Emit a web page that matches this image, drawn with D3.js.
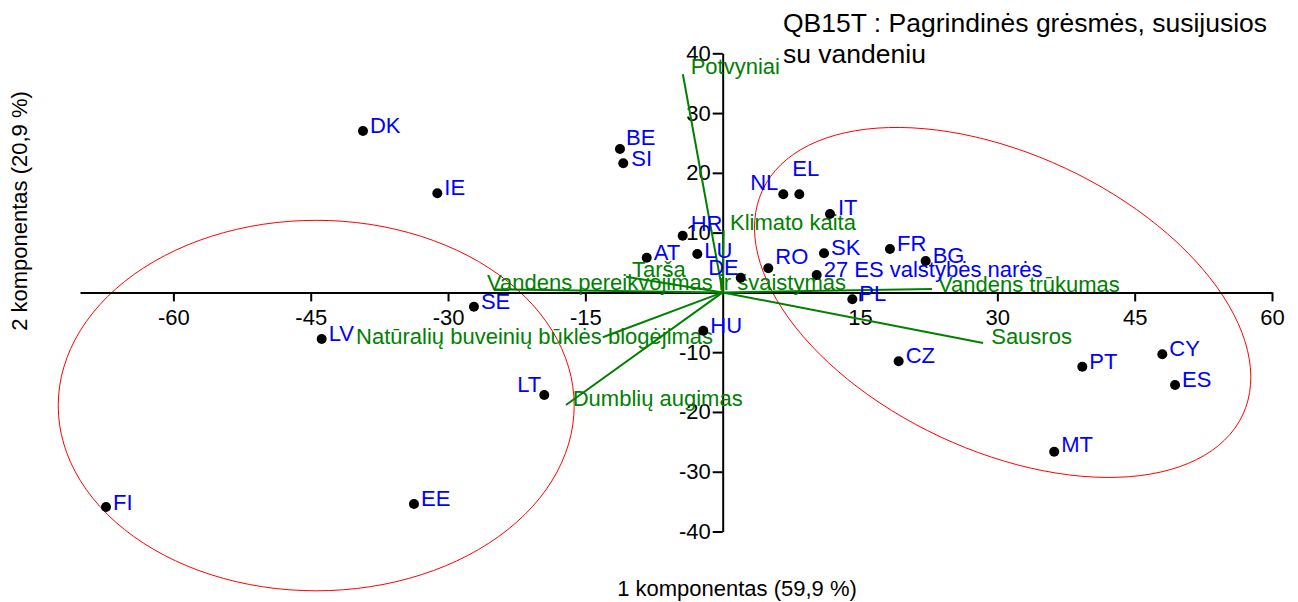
<!DOCTYPE html>
<html>
<head>
<meta charset="utf-8">
<script src="https://cdn.jsdelivr.net/npm/d3@7"></script>
<style>
  body { margin: 0; background: #fff; }
  svg { display: block; font-family: Arial, "Liberation Sans", sans-serif; }
</style>
</head>
<body>
<svg id="chart" width="1298" height="602"></svg>
<script>
// country scores on the first two components
var countries = ["DK", "IE", "BE", "SI", "HR", "AT", "LU", "DE", "RO", "SK", "27 ES valstybės narės", "FR", "BG", "PL",
    "HU", "IT", "NL", "EL", "SE", "LV", "LT", "EE", "FI", "CZ", "PT", "CY", "ES", "MT"];
var pc1 = [-39.29, -31.17, -11.22, -10.86, -4.37, -8.30, -2.77, 1.97, 4.98, 11.07, 10.27, 18.27, 22.17, 14.16,
    -2.12, 11.72, 6.62, 8.37, -27.17, -43.80, -19.49, -33.72, -67.36, 19.22, 39.28, 48.02, 49.41, 36.21];
var pc2 = [27.00, 16.58, 23.98, 21.60, 9.49, 5.81, 6.42, 2.46, 4.03, 6.54, 2.91, 7.26, 5.25, -1.15,
    -6.41, 13.12, 16.41, 16.41, -2.39, -7.80, -17.16, -35.40, -35.90, -11.53, -12.43, -10.36, -15.49, -26.65];

// variable vectors (tips) and where their labels sit, in component units
var threats = ["Potvyniai", "Klimato kaita", "Tarša", "Vandens pereikvojimas ir švaistymas", "Vandens trūkumas",
    "Sausros", "Natūralių buveinių būklės blogėjimas", "Dumblių augimas"];
var vecX = [-4.35, 0.1, -10.56, -25.0, 22.86, 28.44, -13.1, -17.12];
var vecY = [36.49, 10.3, 2.63, 0.5, 0.57, -8.47, -7.5, -18.84];
var vecLabelX = [-3.50, 0.80, -9.91, -25.75, 23.52, 29.33, -40.05, -16.38];
var vecLabelY = [36.49, 10.44, 2.63, 0.40, 0.12, -8.63, -8.63, -19.0];

// group ellipses: centre and two half-axis vectors
var ellCx = [-44.4, 30.58];
var ellCy = [-18.93, -1.68];
var ellA = [[28.18, 0], [26.23, -18.78]];
var ellB = [[0, 30.99], [-6.84, -22.46]];

var xTicks = [-60, -45, -30, -15, 15, 30, 45, 60];
var yTicks = [40, 30, 20, 10, -10, -20, -30, -40];

var titleLines = ["QB15T : Pagrindinės grėsmės, susijusios", "su vandeniu"];
var xTitle = "1 komponentas (59,9 %)";
var yTitle = "2 komponentas (20,9 %)";

// label nudges (px) for crowded points
var nudge = {
    "BE": [6, -4, "start"], "SI": [8, 3, "start"], "HR": [8, -5, "start"], "DE": [-2, -3, "end"],
    "NL": [-5, -4, "end"], "EL": [-7, -18, "start"], "LT": [-3, -3, "end"], "IT": [8, 1, "start"],
    "RO": [7, -4, "start"], "LU": [7, 4, "start"], "MT": [7, 0, "start"], "FI": [7, 3, "start"]
};

var svg = d3.select("#chart");
var x = d3.scaleLinear().domain([-70.2, 60]).range([80, 1272]);
var y = d3.scaleLinear().domain([-40, 40]).range([531.5, 53.3]);

// ellipses
var steps = d3.range(0, 361, 3);
var ellLine = d3.line().x(function(p) { return x(p[0]); }).y(function(p) { return y(p[1]); });
ellCx.forEach(function(cx, i) {
    var pts = steps.map(function(deg) {
        var t = deg * Math.PI / 180;
        return [cx + ellA[i][0] * Math.cos(t) + ellB[i][0] * Math.sin(t),
                ellCy[i] + ellA[i][1] * Math.cos(t) + ellB[i][1] * Math.sin(t)];
    });
    svg.append("path").attr("d", ellLine(pts))
        .attr("fill", "none").attr("stroke", "#ff0000").attr("stroke-width", 1);
});

// axes through the origin (plain hyphen for negatives)
var plain = function(d) { return String(d); };
var xAxis = svg.append("g").attr("transform", "translate(0," + y(0) + ")")
    .call(d3.axisBottom(x).tickValues(xTicks).tickFormat(plain).tickSizeInner(9).tickSizeOuter(0).tickPadding(8));
var yAxis = svg.append("g").attr("transform", "translate(" + x(0) + ",0)")
    .call(d3.axisLeft(y).tickValues(yTicks).tickFormat(plain).tickSizeInner(10).tickSizeOuter(0).tickPadding(2));
[xAxis, yAxis].forEach(function(g) {
    g.selectAll("path, line").attr("stroke", "#000").attr("stroke-width", 2);
    g.selectAll("text").attr("fill", "#000").style("font-size", "22px")
        .style("font-family", "Arial, 'Liberation Sans', sans-serif");
});

// vectors
svg.append("g").selectAll("line")
    .data(threats)
    .enter()
    .append("line")
    .attr("x1", x(0)).attr("y1", y(0))
    .attr("x2", function(d, i) { return x(vecX[i]); })
    .attr("y2", function(d, i) { return y(vecY[i]); })
    .attr("stroke", "#008000").attr("stroke-width", 2);

svg.append("g").selectAll("text")
    .data(threats)
    .enter()
    .append("text")
    .attr("x", function(d, i) { return x(vecLabelX[i]); })
    .attr("y", function(d, i) { return y(vecLabelY[i]); })
    .attr("fill", "#008000")
    .style("font-size", "22px")
    .text(function(d) { return d; });

// points
svg.append("g").selectAll("circle")
    .data(countries)
    .enter()
    .append("circle")
    .attr("cx", function(d, i) { return x(pc1[i]); })
    .attr("cy", function(d, i) { return y(pc2[i]); })
    .attr("r", 5)
    .attr("fill", "#000");

svg.append("g").selectAll("text")
    .data(countries)
    .enter()
    .append("text")
    .attr("x", function(d, i) { return x(pc1[i]) + (nudge[d] ? nudge[d][0] : 7); })
    .attr("y", function(d, i) { return y(pc2[i]) + (nudge[d] ? nudge[d][1] : 2); })
    .attr("text-anchor", function(d) { return nudge[d] ? nudge[d][2] : "start"; })
    .attr("fill", "#0000ff")
    .style("font-size", "22px")
    .text(function(d) { return d; });

// titles
svg.append("text").attr("x", 783).attr("y", 32)
    .style("font-size", "26.5px").text(titleLines[0]);
svg.append("text").attr("x", 783).attr("y", 63)
    .style("font-size", "26.5px").text(titleLines[1]);

svg.append("text").attr("x", 737).attr("y", 596)
    .attr("text-anchor", "middle").style("font-size", "22px").text(xTitle);
svg.append("text").attr("transform", "translate(27,211) rotate(-90)")
    .attr("text-anchor", "middle").style("font-size", "22px").text(yTitle);
</script>
</body>
</html>
